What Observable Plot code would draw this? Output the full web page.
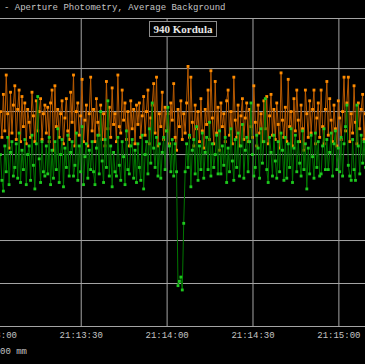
<!DOCTYPE html>
<html>
<head>
<meta charset="utf-8">
<script src="https://cdn.jsdelivr.net/npm/d3@7"></script>
<script src="https://cdn.jsdelivr.net/npm/@observablehq/plot@0.6"></script>
<style>
  html, body { margin: 0; padding: 0; background: #000; }
  body { width: 365px; height: 364px; overflow: hidden; position: relative; }
  #chart { position: absolute; left: -60px; top: 0; width: 485px; height: 364px; }
  #chart svg { max-width: none !important; display: block; }
  #title { position: absolute; left: 4px; top: 2px; font: 9px "Liberation Mono", monospace; line-height: 12px; color: #c4c4c4; white-space: pre; }
  #caption { position: absolute; left: 0px; top: 346px; font: 9px "Liberation Mono", monospace; line-height: 12px; color: #c4c4c4; white-space: pre; }
  #label { position: absolute; left: 149px; top: 21px; width: 66px; height: 14px; border: 1px solid #8c8c8c; background: #000; color: #e6e6e6; font: bold 11px "Liberation Serif", serif; line-height: 14px; text-align: center; white-space: pre; }
</style>
</head>
<body>
<div id="chart"></div>
<div id="title"></div>
<div id="caption"></div>
<div id="label"></div>
<script>
const titleText = "- Aperture Photometry, Average Background";
const captionText = "00 mm";
const objectName = "940 Kordula";

const tickLabels = ["21:13:00", "21:13:30", "21:14:00", "21:14:30", "21:15:00"];
const startTime = "21:13:01.800";
const endTime = "21:15:09.300";
const cadenceSeconds = 0.5;
const gridValues = [20, 40, 60, 80, 100, 120];
const yDomain = [0, 143.3];

const orangeSeries = [
  100, 88, 108, 91, 117, 99, 83, 109, 90, 103, 112, 87, 101, 110, 86, 107,
  93, 104, 85, 101, 95, 88, 109, 98, 86, 105, 91, 100, 106, 87, 99, 103,
  90, 102, 86, 104, 110, 82, 112, 93, 101, 88, 99, 105, 85, 97, 106, 91,
  87, 109, 95, 117, 84, 100, 104, 89, 98, 115, 86, 96, 103, 84, 99, 116,
  91, 101, 86, 106, 95, 89, 103, 87, 99, 84, 114, 92, 102, 88, 111, 94,
  99, 86, 117, 93, 90, 110, 96, 104, 87, 100, 84, 105, 92, 101, 85, 103,
  94, 104, 88, 98, 107, 89, 100, 110, 85, 97, 103, 113, 90, 116, 84, 99,
  93, 109, 87, 102, 91, 99, 85, 104, 96, 113, 88, 82, 101, 93, 105, 87,
  99, 90, 104, 121, 88, 116, 95, 84, 103, 92, 100, 86, 106, 91, 83, 101,
  94, 110, 87, 119, 97, 85, 114, 90, 102, 82, 104, 93, 99, 86, 105, 110,
  89, 100, 85, 116, 96, 88, 103, 84, 98, 106, 87, 97, 104, 86, 101, 93,
  88, 112, 95, 84, 103, 90, 99, 86, 105, 92, 107, 85, 98, 108, 89, 101,
  87, 104, 94, 83, 118, 96, 88, 102, 86, 115, 93, 100, 84, 106, 91, 110,
  96, 86, 103, 92, 82, 110, 99, 88, 105, 90, 101, 110, 85, 97, 104, 88,
  110, 93, 85, 101, 114, 89, 106, 96, 86, 103, 92, 84, 105, 97, 87, 100,
  116, 91, 104, 116, 86, 99, 90, 112, 95, 85, 104, 92, 101, 108, 87, 99
];

const greenSeries = [
  80, 68, 63, 84, 72, 88, 66, 81, 86, 70, 74, 85, 69, 90, 67, 82,
  73, 87, 66, 80, 84, 68, 89, 75, 64, 85, 107, 78, 67, 86, 72, 70,
  84, 71, 88, 66, 82, 69, 86, 73, 92, 67, 80, 87, 65, 83, 74, 89,
  70, 81, 86, 70, 75, 90, 68, 84, 72, 93, 66, 79, 85, 69, 82, 73,
  86, 72, 66, 83, 89, 71, 100, 77, 67, 87, 74, 105, 70, 84, 65, 81,
  72, 70, 88, 75, 68, 86, 79, 66, 91, 73, 71, 84, 87, 69, 82, 67,
  85, 74, 68, 89, 64, 80, 86, 71, 92, 76, 104, 83, 74, 88, 70, 85,
  69, 81, 88, 73, 91, 102, 84, 72, 87, 70, 85, 72, 19, 21, 23, 17,
  48, 72, 85, 74, 89, 65, 82, 87, 71, 93, 68, 84, 73, 90, 69, 81,
  88, 73, 95, 70, 85, 74, 80, 89, 71, 91, 71, 84, 75, 88, 67, 83,
  72, 92, 77, 68, 87, 74, 90, 70, 84, 94, 69, 82, 88, 72, 86, 104,
  80, 70, 74, 89, 83, 69, 92, 76, 86, 106, 73, 67, 88, 81, 70, 89,
  77, 69, 86, 72, 90, 82, 68, 88, 69, 85, 74, 92, 67, 83, 89, 72,
  86, 76, 70, 91, 73, 85, 64, 83, 71, 89, 79, 69, 90, 74, 86, 70,
  71, 84, 92, 73, 87, 73, 81, 90, 70, 85, 91, 73, 83, 72, 88, 70,
  85, 93, 103, 75, 70, 68, 87, 73, 68, 103, 84, 71, 89, 76, 86, 74
];

document.getElementById("title").textContent = titleText;
document.getElementById("caption").textContent = captionText;
document.getElementById("label").textContent = objectName;

const parseT = d3.utcParse("%H:%M:%S");
const parseTms = d3.utcParse("%H:%M:%S.%L");
const fmt = d3.utcFormat("%H:%M:%S");
const t0 = parseTms(startTime);
const t1 = parseTms(endTime);
const ticks = tickLabels.map(parseT);

const timeAt = i => new Date(t0.getTime() + i * cadenceSeconds * 1000);
const orange = orangeSeries.map((v, i) => ({t: timeAt(i), v}));
const green = greenSeries.map((v, i) => ({t: timeAt(i), v}));

const gridColor = "#a4a4a4";
const chart = Plot.plot({
  width: 485,
  height: 364,
  marginLeft: 60,
  marginRight: 60,
  marginTop: 18,
  marginBottom: 38,
  style: {background: "#000", color: "#c4c4c4", overflow: "visible", maxWidth: "none"},
  x: {type: "utc", domain: [t0, t1], axis: null},
  y: {domain: yDomain, axis: null},
  marks: [
    Plot.gridX(ticks, {stroke: gridColor, strokeOpacity: 1}),
    Plot.gridY(gridValues, {stroke: gridColor, strokeOpacity: 1}),
    Plot.ruleY([yDomain[0], yDomain[1]], {stroke: gridColor}),
    Plot.line(orange, {x: "t", y: "v", stroke: "#b85a00", strokeWidth: 1}),
    Plot.dot(orange, {x: "t", y: "v", symbol: "square", r: 1.6, fill: "#ff8c00", stroke: null}),
    Plot.line(green, {x: "t", y: "v", stroke: "#007800", strokeWidth: 1}),
    Plot.dot(green, {x: "t", y: "v", symbol: "square", r: 1.6, fill: "#1ec81e", stroke: null}),
    Plot.text(ticks, {x: d => d, text: d => fmt(d), frameAnchor: "bottom", dy: 9, lineAnchor: "middle", textAnchor: "middle", fill: "#c4c4c4", fontFamily: "Liberation Mono", fontSize: 9})
  ]
});
document.getElementById("chart").appendChild(chart);
</script>
</body>
</html>
